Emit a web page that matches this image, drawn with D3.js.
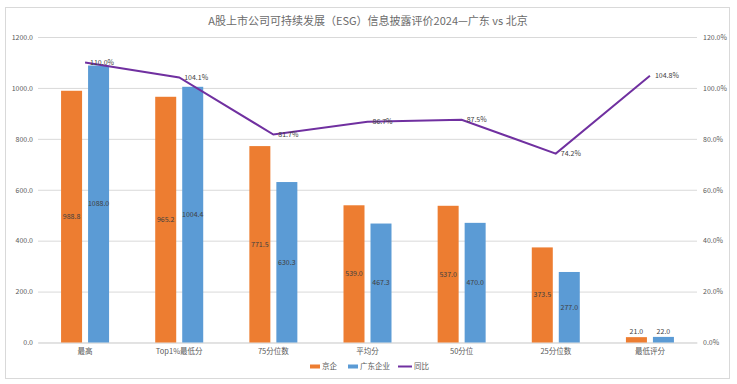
<!DOCTYPE html>
<html><head><meta charset="utf-8">
<script src="https://cdn.jsdelivr.net/npm/d3@7"></script>
<style>body{margin:0;background:#fff}svg{display:block}text{font-family:"Noto Sans CJK SC","Noto Sans",sans-serif}</style>
</head><body><div id="c"></div>
<script>
const categories = ["最高","Top1%最低分","75分位数","平均分","50分位","25分位数","最低评分"];
const beijing = [988.8, 965.2, 771.5, 539.0, 537.0, 373.5, 21.0];
const guangdong = [1088.0, 1004.4, 630.3, 467.3, 470.0, 277.0, 22.0];
const ratio = [110.0, 104.1, 81.7, 86.7, 87.5, 74.2, 104.8];
const leftTicks = [0,200,400,600,800,1000,1200];
const rightTicks = [0,20,40,60,80,100,120];
const seriesNames = ["京企","广东企业","同比"];
const title = "A股上市公司可持续发展（ESG）信息披露评价2024—广东 vs 北京";

const W=737,H=384;
const m={l:38,r:40,t:37,b:41.5};
const svg=d3.select("#c").append("svg").attr("width",W).attr("height",H);
svg.append("rect").attr("x",5.5).attr("y",7.5).attr("width",724).attr("height",371).attr("fill","#fff").attr("stroke","#d9d9d9");

const x=d3.scaleBand().domain(categories).range([m.l,W-m.r]);
const y=d3.scaleLinear().domain([0,1200]).range([H-m.b,m.t]);
const y2=d3.scaleLinear().domain([0,120]).range([H-m.b,m.t]);

svg.append("text").attr("x",368).attr("y",25).attr("text-anchor","middle").attr("font-size",11).attr("fill","#6b6b6b").text(title);

// grid
svg.append("g").selectAll("line").data(leftTicks).join("line")
 .attr("x1",m.l).attr("x2",W-m.r).attr("y1",d=>y(d)+0.5).attr("y2",d=>y(d)+0.5)
 .attr("stroke","#d9d9d9").attr("stroke-width",1);

const yAxis=d3.axisLeft(y).tickValues(leftTicks).tickFormat(d3.format(".1f")).tickSize(0).tickPadding(5);
const gy=svg.append("g").attr("transform",`translate(${m.l},0)`).call(yAxis);
gy.select(".domain").remove();
gy.selectAll("text").attr("font-size",7).attr("fill","#595959");

const yAxis2=d3.axisRight(y2).tickValues(rightTicks).tickFormat(d=>d.toFixed(1)+"%").tickSize(0).tickPadding(6);
const gy2=svg.append("g").attr("transform",`translate(${W-m.r},0)`).call(yAxis2);
gy2.select(".domain").remove();
gy2.selectAll("text").attr("font-size",7).attr("fill","#595959");

const xAxis=d3.axisBottom(x).tickSize(0).tickPadding(6);
const gx=svg.append("g").attr("transform",`translate(0,${H-m.b})`).call(xAxis);
gx.select(".domain").attr("stroke","#d9d9d9");
gx.selectAll("text").attr("font-size",7.5).attr("fill","#595959");

const bw=21, gap=6;
const colors=["#ED7D31","#5B9BD5","#7030A0"];
[beijing,guangdong].forEach((vals,si)=>{
  const off = si===0 ? -gap/2-bw : gap/2;
  const g=svg.append("g");
  g.selectAll("rect").data(vals).join("rect")
   .attr("x",(d,i)=>x(categories[i])+x.bandwidth()/2+off)
   .attr("y",d=>y(d)).attr("width",bw).attr("height",d=>y(0)-y(d))
   .attr("fill",colors[si]);
  g.selectAll("text").data(vals).join("text")
   .attr("x",(d,i)=>x(categories[i])+x.bandwidth()/2+off+bw/2)
   .attr("y",d=>(y(0)-y(d))<15 ? y(d)-3 : (y(d)+y(0))/2)
   .attr("dy",d=>(y(0)-y(d))<15 ? "0" : "0.35em")
   .attr("text-anchor","middle").attr("font-size",7).attr("fill","#404040")
   .text(d=>d.toFixed(1));
});

const line=d3.line().x((d,i)=>x(categories[i])+x.bandwidth()/2).y(d=>y2(d));
svg.append("path").datum(ratio).attr("d",line).attr("fill","none").attr("stroke",colors[2]).attr("stroke-width",2);
svg.append("g").selectAll("text").data(ratio).join("text")
 .attr("x",(d,i)=>x(categories[i])+x.bandwidth()/2+5).attr("y",d=>y2(d)).attr("dy","0.35em")
 .attr("font-size",7).attr("fill","#404040").text(d=>d.toFixed(1)+"%");

// legend
const lg=svg.append("g").attr("transform","translate(0,366.5)");
const items=[{x:310,n:seriesNames[0],c:colors[0],t:"bar"},{x:348,n:seriesNames[1],c:colors[1],t:"bar"},{x:398,n:seriesNames[2],c:colors[2],t:"line"}];
items.forEach(it=>{
  if(it.t==="bar") lg.append("rect").attr("x",it.x).attr("y",-2).attr("width",10).attr("height",4).attr("fill",it.c);
  else lg.append("line").attr("x1",it.x).attr("x2",it.x+14).attr("y1",0).attr("y2",0).attr("stroke",it.c).attr("stroke-width",2);
  lg.append("text").attr("x",it.x+(it.t==="bar"?12:16)).attr("y",0).attr("dy","0.35em").attr("font-size",7.5).attr("fill","#595959").text(it.n);
});
</script></body></html>
